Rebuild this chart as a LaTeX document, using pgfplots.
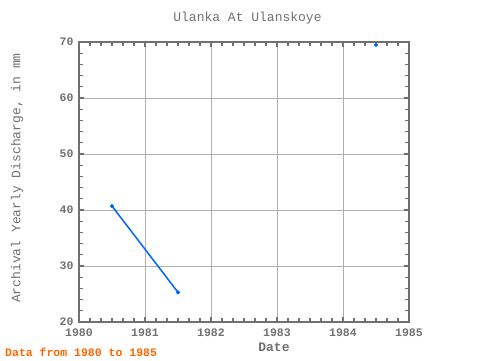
\documentclass[border=0pt]{standalone}
\usepackage{pgfplots}
\pgfplotsset{compat=1.18}
\usepackage{fontspec}
\setmainfont{Liberation Mono}
\definecolor{axgray}{HTML}{707070}
\definecolor{gridgray}{HTML}{B0B0B0}
\definecolor{lineblue}{HTML}{0066FF}
\definecolor{noteorange}{HTML}{FF6600}
\begin{document}
\begin{tikzpicture}[x=1pt,y=1pt]
\path[use as bounding box] (0,0) rectangle (480,360);
\begin{axis}[
  at={(79pt,38pt)}, anchor=south west,
  scale only axis, width=330pt, height=280pt,
  xmin=1980, xmax=1985, ymin=20, ymax=70,
  xtick={1980,1981,1982,1983,1984,1985},
  ytick={20,30,40,50,60,70},
  minor x tick num=5, minor y tick num=4,
  tick align=inside, major tick length=5pt, minor tick length=4pt,
  xticklabel style={font=\fontsize{11.5}{12}\selectfont\bfseries, text=axgray, yshift=-3.5pt},
  yticklabel style={font=\fontsize{11.5}{12}\selectfont\bfseries, text=axgray, xshift=-2pt},
  /pgf/number format/assume math mode=true,
  /pgf/number format/1000 sep={},
  grid=major, major grid style={gridgray, line width=0.8pt},
  axis line style={axgray, line width=1.6pt},
  every tick/.style={axgray, line width=1.2pt},
  unbounded coords=jump,
  clip=false,
]
\addplot[lineblue, line width=1.5pt, mark=*, mark size=1.2pt, mark options={fill=lineblue, draw=lineblue}] coordinates {
  (1980.5, 40.7)
  (1981.5, 25.3)
  (1982.5, nan)
  (1983.5, nan)
  (1984.5, 69.5)
};
\end{axis}
\node[font=\fontsize{13}{14}\selectfont, text=axgray] at (247.5,342) {Ulanka At Ulanskoye};
\node[font=\fontsize{13}{14}\selectfont\bfseries, text=axgray] at (274,13) {Date};
\node[font=\fontsize{13}{14}\selectfont, text=axgray, rotate=90] at (17,182) {Archival Yearly Discharge, in mm};
\node[font=\fontsize{11.5}{12}\selectfont\bfseries, text=noteorange, anchor=west, inner sep=0pt] at (5,8) {Data from 1980 to 1985};
\end{tikzpicture}
\end{document}
